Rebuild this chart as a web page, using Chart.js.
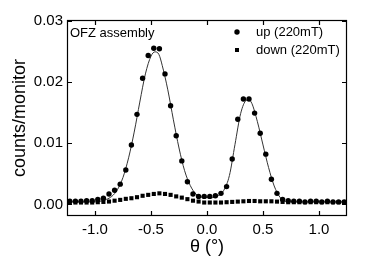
<!DOCTYPE html>
<html>
<head>
<meta charset="utf-8">
<script src="https://cdn.jsdelivr.net/npm/chart.js@4/dist/chart.umd.min.js"></script>
<style>
  html, body { margin: 0; padding: 0; background: #fff; }
</style>
</head>
<body>
<canvas id="scanChart" width="374" height="262"></canvas>
<script>
// measured angles (deg), both field directions share the same scan grid
var theta = [-1.225, -1.175, -1.125, -1.075, -1.025, -0.975, -0.925, -0.875, -0.825, -0.775,
             -0.725, -0.675, -0.625, -0.575, -0.525, -0.475, -0.425, -0.375, -0.325, -0.275,
             -0.225, -0.175, -0.125, -0.075, -0.025, 0.025, 0.075, 0.125, 0.175, 0.225,
             0.275, 0.325, 0.375, 0.425, 0.475, 0.525, 0.575, 0.625, 0.675, 0.725,
             0.775, 0.825, 0.875, 0.925, 0.975, 1.025, 1.075, 1.125, 1.175, 1.225];
var upCounts = [0.0005, 0.0005, 0.0005, 0.0006, 0.0006, 0.0008, 0.0010, 0.0017, 0.0023, 0.0033,
                0.0056, 0.0097, 0.0147, 0.0206, 0.0243, 0.0255, 0.0254, 0.0213, 0.0161, 0.0112,
                0.0071, 0.0037, 0.0017, 0.0013, 0.0013, 0.0013, 0.0014, 0.0018, 0.0029, 0.0074,
                0.0139, 0.0172, 0.0172, 0.0149, 0.0116, 0.0082, 0.0041, 0.0018, 0.0008, 0.0006,
                0.0005, 0.0005, 0.0004, 0.0005, 0.0005, 0.0004, 0.0005, 0.0004, 0.0004, 0.0004];
var downCounts = [0.0003, 0.0003, 0.0003, 0.0003, 0.0003, 0.00035, 0.0004, 0.00046, 0.0006, 0.00073,
                  0.0009, 0.0010, 0.00117, 0.0014, 0.00155, 0.0017, 0.0018, 0.0017, 0.00155, 0.0013,
                  0.0011, 0.00085, 0.0006, 0.00046, 0.0003, 0.0003, 0.0003, 0.0003, 0.00035, 0.0004,
                  0.00045, 0.0005, 0.00055, 0.00055, 0.0005, 0.0005, 0.0005, 0.00045, 0.0004, 0.00035,
                  0.00035, 0.00035, 0.00035, 0.00035, 0.00035, 0.00035, 0.00035, 0.00035, 0.00035, 0.00035];

// fit curve through the "up" data
var fitTheta = [-1.25, -1.0, -0.95, -0.9, -0.85, -0.8, -0.75, -0.7, -0.65, -0.6,
                -0.55, -0.5, -0.465, -0.43, -0.4, -0.35, -0.3, -0.25, -0.2, -0.15,
                -0.1, -0.05, 0.0, 0.05, 0.1, 0.15, 0.2, 0.25, 0.3, 0.35,
                0.37, 0.4, 0.45, 0.5, 0.55, 0.6, 0.65, 0.7, 0.75, 1.25];
var fitCounts = [0.0004, 0.0004, 0.0005, 0.0008, 0.0013, 0.0024, 0.0044, 0.0076, 0.0118, 0.0167,
                 0.0213, 0.0242, 0.0249, 0.0245, 0.0227, 0.0187, 0.0138, 0.0092, 0.0055, 0.0031,
                 0.0017, 0.0012, 0.0011, 0.0011, 0.0014, 0.0023, 0.0047, 0.0098, 0.0148, 0.0170,
                 0.0171, 0.0165, 0.0135, 0.0097, 0.0060, 0.0030, 0.0012, 0.0005, 0.0004, 0.0004];

var xTicks = [-1.0, -0.5, 0.0, 0.5, 1.0];
var yTicks = [0.00, 0.01, 0.02, 0.03];

var FONT = '"Liberation Sans", Arial, sans-serif';

function pairs(xs, ys) {
    return xs.map(function (v, i) { return { x: v, y: ys[i] }; });
}

// box, inward ticks, legend and sample note
var framePlugin = {
    id: 'frame',
    afterDraw: function (chart) {
        var ctx = chart.ctx, a = chart.chartArea;
        var x = chart.scales.x, y = chart.scales.y;
        ctx.save();
        ctx.strokeStyle = '#000';
        ctx.lineWidth = 1.2;
        ctx.strokeRect(a.left + 0.5, a.top + 0.5, a.right - a.left - 1, a.bottom - a.top - 1);
        ctx.beginPath();
        xTicks.forEach(function (v) {
            var px = Math.round(x.getPixelForValue(v)) + 0.5;
            ctx.moveTo(px, a.bottom); ctx.lineTo(px, a.bottom - 5);
            ctx.moveTo(px, a.top); ctx.lineTo(px, a.top + 5);
        });
        yTicks.forEach(function (v) {
            var py = Math.round(y.getPixelForValue(v)) + 0.5;
            ctx.moveTo(a.left, py); ctx.lineTo(a.left + 5, py);
            ctx.moveTo(a.right, py); ctx.lineTo(a.right - 5, py);
        });
        ctx.stroke();

        ctx.fillStyle = '#000';
        ctx.font = '13px ' + FONT;
        ctx.textBaseline = 'middle';
        ctx.textAlign = 'left';
        ctx.fillText('OFZ assembly', a.left + 3, 33);

        var ds = chart.data.datasets;
        ctx.beginPath();
        ctx.arc(237, 32, 2.7, 0, Math.PI * 2);
        ctx.fill();
        ctx.fillText(ds[0].label, 256, 32);
        ctx.fillRect(235, 48, 4, 4);
        ctx.fillText(ds[1].label, 256, 50);
        ctx.restore();
    }
};

var ctx = document.getElementById('scanChart').getContext('2d');
var myChart = new Chart(ctx, {
    type: 'scatter',
    data: {
        datasets: [{
            label: 'up (220mT)',
            data: pairs(theta, upCounts),
            pointStyle: 'circle',
            pointRadius: 2.7,
            pointBorderWidth: 0,
            backgroundColor: '#000',
            borderColor: '#000'
        }, {
            label: 'down (220mT)',
            data: pairs(theta, downCounts),
            pointStyle: 'rect',
            pointRadius: 2.9,
            pointBorderWidth: 0,
            backgroundColor: '#000',
            borderColor: '#000'
        }, {
            label: 'fit',
            type: 'line',
            data: pairs(fitTheta, fitCounts),
            showLine: true,
            pointRadius: 0,
            borderWidth: 1,
            borderColor: '#333',
            cubicInterpolationMode: 'monotone',
            fill: false
        }]
    },
    plugins: [framePlugin],
    options: {
        responsive: false,
        animation: false,
        layout: {
            padding: { top: 20, right: 27, left: 0, bottom: 0 }
        },
        plugins: {
            legend: { display: false },
            tooltip: { enabled: false }
        },
        scales: {
            x: {
                type: 'linear',
                min: -1.25,
                max: 1.25,
                afterBuildTicks: function (s) { s.ticks = xTicks.map(function (v) { return { value: v }; }); },
                afterFit: function (s) { s.height = 46; },
                grid: { display: false, drawTicks: false },
                border: { display: false },
                ticks: {
                    padding: 5,
                    color: '#000',
                    font: { family: FONT, size: 15 },
                    callback: function (v) { return v.toFixed(1); }
                },
                title: {
                    display: true,
                    text: 'θ (°)',
                    color: '#000',
                    font: { family: FONT, size: 18 },
                    padding: { top: 0, bottom: 4 }
                }
            },
            y: {
                type: 'linear',
                min: -0.0019,
                max: 0.0301,
                afterBuildTicks: function (s) { s.ticks = yTicks.map(function (v) { return { value: v }; }); },
                afterFit: function (s) { s.width = 67; },
                grid: { display: false, drawTicks: false },
                border: { display: false },
                ticks: {
                    padding: 4,
                    color: '#000',
                    font: { family: FONT, size: 15 },
                    callback: function (v) { return v.toFixed(2); }
                },
                title: {
                    display: true,
                    text: 'counts/monitor',
                    color: '#000',
                    font: { family: FONT, size: 18 },
                    padding: { top: 9, bottom: 0 }
                }
            }
        }
    }
});
</script>
</body>
</html>
